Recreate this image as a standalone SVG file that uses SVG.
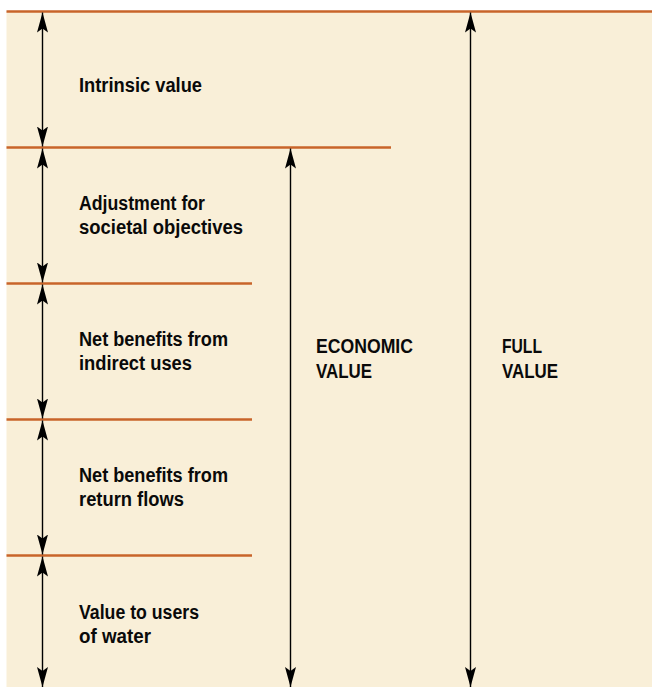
<svg xmlns="http://www.w3.org/2000/svg" width="652" height="687" viewBox="0 0 652 687">
  <style>
    .bg { fill: #F9EFD8; }
    .rule { stroke: #C8642A; stroke-width: 2.6; fill: none; }
    .dim { stroke: #000; stroke-width: 1.4; fill: none; marker-start: url(#ah); marker-end: url(#ah); }
    .lbl { font-family: "Liberation Sans", Arial, sans-serif; font-weight: bold; font-size: 20px; fill: #0a0a0a; }
  </style>
  <defs>
    <marker id="ah" viewBox="0 0 20 11" refX="20" refY="5.5" markerUnits="userSpaceOnUse" markerWidth="20" markerHeight="11" orient="auto-start-reverse">
      <path d="M0,0 L20,5.5 L0,11 L4,5.5 Z" fill="#000"/>
    </marker>
  </defs>
  <rect class="bg" x="6.5" y="11" width="645.5" height="676"/>
  <g id="rules">
    <line class="rule" x1="6.5" y1="11.5" x2="652" y2="11.5"/>
    <line class="rule" x1="6.5" y1="147.5" x2="391" y2="147.5"/>
    <line class="rule" x1="6.5" y1="283.5" x2="252" y2="283.5"/>
    <line class="rule" x1="6.5" y1="419.5" x2="252" y2="419.5"/>
    <line class="rule" x1="6.5" y1="555.5" x2="252" y2="555.5"/>
  </g>
  <g id="connectors">
    <line class="dim" x1="42.5" y1="12.5" x2="42.5" y2="146.5"/>
    <line class="dim" x1="42.5" y1="148.5" x2="42.5" y2="282.5"/>
    <line class="dim" x1="42.5" y1="284.5" x2="42.5" y2="418.5"/>
    <line class="dim" x1="42.5" y1="420.5" x2="42.5" y2="554.5"/>
    <line class="dim" x1="42.5" y1="556.5" x2="42.5" y2="687"/>
    <line class="dim" x1="290.5" y1="148.5" x2="290.5" y2="687"/>
    <line class="dim" x1="470.5" y1="12.5" x2="470.5" y2="687"/>
  </g>
  <g id="intrinsic"><text class="lbl" x="79" y="92" textLength="123" lengthAdjust="spacingAndGlyphs">Intrinsic value</text></g>
  <g id="adjustment"><text class="lbl" x="79" y="210" textLength="126" lengthAdjust="spacingAndGlyphs">Adjustment for</text><text class="lbl" x="79" y="234" textLength="164" lengthAdjust="spacingAndGlyphs">societal objectives</text></g>
  <g id="indirect"><text class="lbl" x="79" y="346" textLength="149" lengthAdjust="spacingAndGlyphs">Net benefits from</text><text class="lbl" x="79" y="370" textLength="113" lengthAdjust="spacingAndGlyphs">indirect uses</text></g>
  <g id="return"><text class="lbl" x="79" y="482" textLength="149" lengthAdjust="spacingAndGlyphs">Net benefits from</text><text class="lbl" x="79" y="506" textLength="105" lengthAdjust="spacingAndGlyphs">return flows</text></g>
  <g id="users"><text class="lbl" x="79" y="619" textLength="120" lengthAdjust="spacingAndGlyphs">Value to users</text><text class="lbl" x="79" y="643" textLength="72" lengthAdjust="spacingAndGlyphs">of water</text></g>
  <g id="economic"><text class="lbl" x="316" y="353" textLength="97" lengthAdjust="spacingAndGlyphs">ECONOMIC</text><text class="lbl" x="316" y="378" textLength="56" lengthAdjust="spacingAndGlyphs">VALUE</text></g>
  <g id="full"><text class="lbl" x="502" y="353" textLength="40" lengthAdjust="spacingAndGlyphs">FULL</text><text class="lbl" x="502" y="378" textLength="56" lengthAdjust="spacingAndGlyphs">VALUE</text></g>
</svg>
